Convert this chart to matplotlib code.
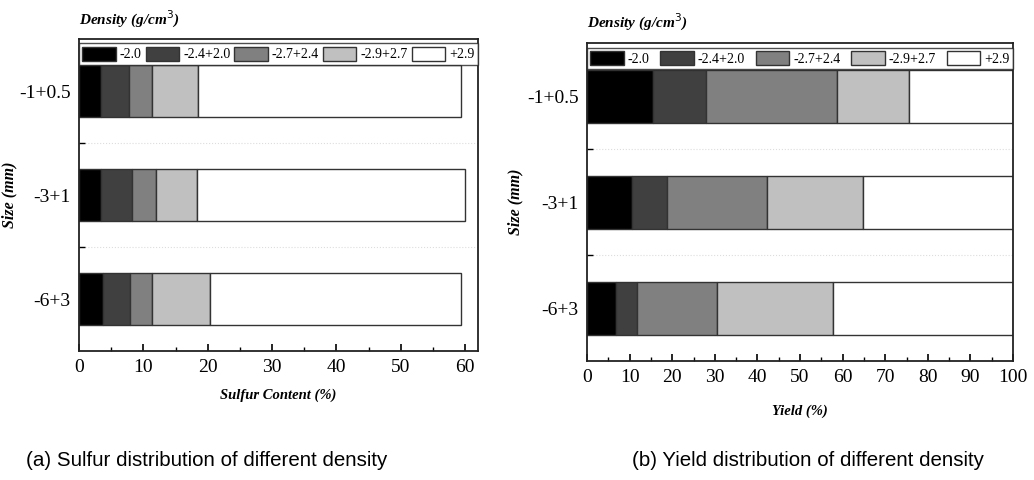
import matplotlib.pyplot as plt
from matplotlib.patches import Patch

# size fractions, top to bottom
sizes = ['-1+0.5', '-3+1', '-6+3']
densities = ['-2.0', '-2.4+2.0', '-2.7+2.4', '-2.9+2.7', '+2.9']
colors = ['#000000', '#404040', '#808080', '#c0c0c0', '#ffffff']

# sulfur content (%) per density fraction, stacked
sulfur = [
    [3.4, 4.3, 3.6, 7.2, 40.9],
    [3.4, 4.8, 3.7, 6.5, 41.5],
    [3.8, 4.1, 3.5, 8.9, 39.0],
]
# yield (%) per density fraction, stacked
yields = [
    [15.6, 12.3, 30.8, 16.9, 24.4],
    [10.6, 8.2, 23.5, 22.5, 35.2],
    [6.8, 5.0, 18.6, 27.4, 42.2],
]

serif = ['Liberation Serif', 'DejaVu Serif']
plt.rcParams['font.family'] = serif


def draw_panel(ax, data, xmax, xlabel, xlabelpad, ylabel_x):
    for i, row in enumerate(data):
        left = 0
        for j, v in enumerate(row):
            ax.barh(i, v, left=left, height=0.5, color=colors[j],
                    edgecolor='#333333', linewidth=1.0)
            left += v
    ax.set_ylim(2.5, -0.5)
    ax.set_xlim(0, xmax)
    ax.set_yticks(range(len(sizes)))
    ax.set_yticklabels(sizes, fontsize=14)
    ax.set_yticks([0.5, 1.5], minor=True)
    ax.tick_params(axis='y', which='major', length=0, pad=6)
    ax.tick_params(axis='y', which='minor', direction='in', length=4, width=1)
    ax.set_xticks(range(0, xmax + 1, 10))
    ax.set_xticks(range(5, xmax, 10), minor=True)
    ax.tick_params(axis='x', which='major', direction='in', length=5, width=1.2,
                   labelsize=14, pad=6)
    ax.tick_params(axis='x', which='minor', direction='in', length=3, width=1)
    ax.grid(axis='y', which='minor', color='#dddddd', linestyle=':', linewidth=0.8)
    ax.set_axisbelow(True)
    for s in ax.spines.values():
        s.set_linewidth(1.3)
        s.set_color('#222222')
    ax.set_xlabel(xlabel, fontsize=10.5, fontweight='bold', fontstyle='italic', labelpad=xlabelpad)
    ax.set_ylabel('Size (mm)', fontsize=11.5, fontweight='bold', fontstyle='italic')
    ax.yaxis.set_label_coords(ylabel_x, 0.5)
    ax.text(0, 1.03, r'Density (g/cm$^3$)', transform=ax.transAxes, fontsize=11,
            fontweight='bold', fontstyle='italic', ha='left', va='bottom')
    handles = [Patch(facecolor=c, edgecolor='#333333', linewidth=1.0) for c in colors]
    leg = ax.legend(handles, densities, loc='lower left', bbox_to_anchor=(0, 0.917, 1, 0.083),
                    mode='expand', ncol=5, fontsize=10, frameon=True, fancybox=False,
                    borderaxespad=0, handlelength=2.4, handleheight=1.2,
                    handletextpad=0.3, columnspacing=0.3, borderpad=0.25)
    leg.get_frame().set_edgecolor('#222222')
    leg.get_frame().set_linewidth(1.0)


fig = plt.figure(figsize=(10.34, 4.8), dpi=100)
ax1 = fig.add_axes([0.0764, 0.26875, 0.3859, 0.65])
ax2 = fig.add_axes([0.5677, 0.2479, 0.412, 0.6625])

draw_panel(ax1, sulfur, 62, 'Sulfur Content (%)', 9, -0.155)
ax1.set_xticks(range(0, 61, 10))
draw_panel(ax2, yields, 100, 'Yield (%)', 13, -0.15)

fig.text(0.025, 0.02, '(a) Sulfur distribution of different density', fontsize=14.8,
         family=['Liberation Sans', 'DejaVu Sans'], ha='left', va='bottom')
fig.text(0.611, 0.02, '(b) Yield distribution of different density', fontsize=14.8,
         family=['Liberation Sans', 'DejaVu Sans'], ha='left', va='bottom')

fig.savefig('out.png', dpi=100)
